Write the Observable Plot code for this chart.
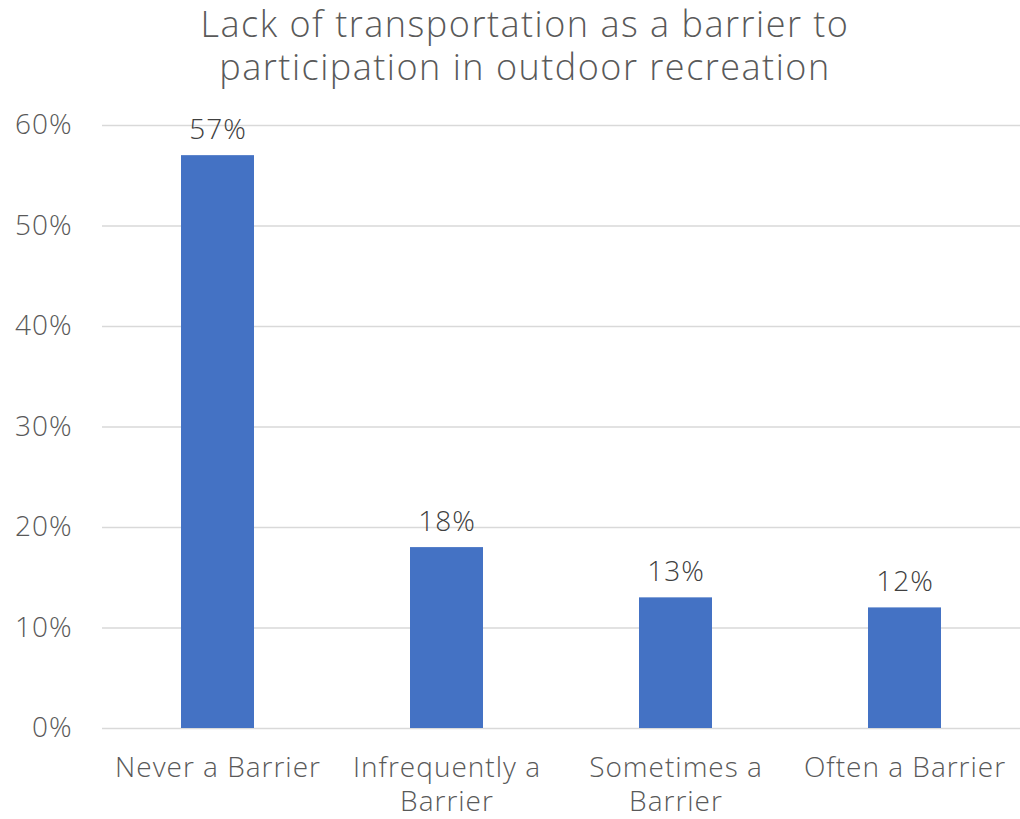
<!DOCTYPE html>
<html>
<head>
<meta charset="utf-8">
<script src="https://cdn.jsdelivr.net/npm/d3@7"></script>
<script src="https://cdn.jsdelivr.net/npm/@observablehq/plot@0.6"></script>
<style>
  html, body { margin: 0; padding: 0; background: #fff; }
  #wrap { width: 1020px; height: 819px; position: relative; overflow: hidden; }
  #title { position: absolute; left: 30px; top: 2px; width: 990px; text-align: center;
    font-family: "Open Sans", "Lato", sans-serif; font-weight: 300; font-size: 36px;
    letter-spacing: 1.5px; line-height: 43px; color: #595959; }
  #chart { position: absolute; left: 0; top: 100px; }
</style>
</head>
<body>
<div id="wrap">
  <div id="title">Lack of transportation as a barrier to<br>participation in outdoor recreation</div>
  <div id="chart"></div>
</div>
<script>
const categories = ["Never a Barrier", "Infrequently a Barrier", "Sometimes a Barrier", "Often a Barrier"];
const tickLabels = ["Never a Barrier", "Infrequently a\nBarrier", "Sometimes a\nBarrier", "Often a Barrier"];
const values = [0.57, 0.18, 0.13, 0.12];
const yTicks = [0, 0.1, 0.2, 0.3, 0.4, 0.5, 0.6];

const data = categories.map((c, i) => ({category: c, value: values[i]}));
const labelOf = new Map(categories.map((c, i) => [c, tickLabels[i]]));

const font = "'Open Sans', Lato, sans-serif";

const chart = Plot.plot({
  width: 1020,
  height: 719,
  marginLeft: 102,
  marginRight: 0,
  marginTop: 25,
  marginBottom: 91,
  style: {fontFamily: font, fontSize: "28px", letterSpacing: "1px", color: "#595959", background: "transparent"},
  x: {domain: categories, paddingInner: 0.682, paddingOuter: 0.341, label: null},
  y: {domain: [0, 0.6], label: null},
  marks: [
    Plot.gridY(yTicks, {stroke: "#d9d9d9", strokeOpacity: 1, strokeWidth: 1.5}),
    Plot.axisY({ticks: yTicks, tickSize: 0, tickPadding: 30, tickFormat: d => Math.round(d * 100) + "%",
      fontSize: 28, fontWeight: 300, fill: "#595959", label: null}),
    Plot.barY(data, {x: "category", y: "value", fill: "#4472C4"}),
    Plot.text(data, {x: "category", y: "value", text: d => Math.round(d.value * 100) + "%",
      dy: -17, lineAnchor: "bottom", fontSize: 28, fontWeight: 300, fill: "#404040"}),
    Plot.axisX({tickSize: 0, tickPadding: 24, tickFormat: d => labelOf.get(d), lineHeight: 1.22,
      fontSize: 28, fontWeight: 300, fill: "#595959", label: null, textOverflow: null, lineWidth: Infinity})
  ]
});
document.getElementById("chart").appendChild(chart);
</script>
</body>
</html>
